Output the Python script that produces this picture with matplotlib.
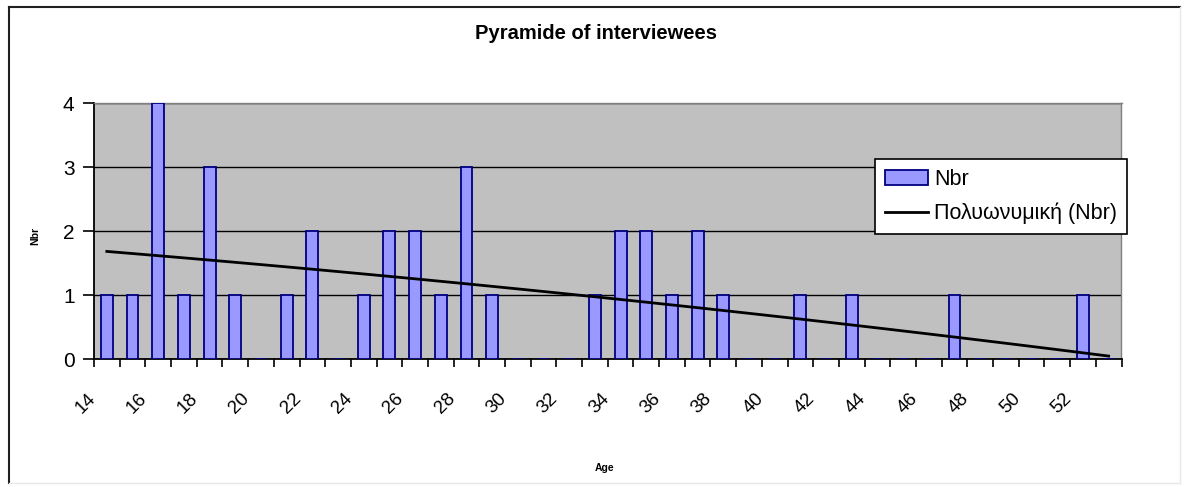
import numpy as np
import matplotlib
matplotlib.use("Agg")
import matplotlib.pyplot as plt
from matplotlib.patches import Patch
from matplotlib.lines import Line2D
from matplotlib.transforms import ScaledTranslation

ages = list(range(14, 54))
counts = [1, 1, 4, 1, 3, 1, 0, 1, 2, 0,
          1, 2, 2, 1, 3, 1, 0, 0, 0, 1,
          2, 2, 1, 2, 1, 0, 0, 1, 0, 1,
          0, 0, 0, 1, 0, 0, 0, 0, 1, 0]
tick_labels = [str(a) for a in range(14, 54, 2)]
title = "Pyramide of interviewees"
series_name = "Nbr"
trend_name = "Πολυωνυμική (Nbr)"
x_title = "Age"

plt.rcParams['font.family'] = ['Liberation Sans', 'DejaVu Sans']

W, H = 1186, 487
fig = plt.figure(figsize=(W / 100, H / 100), dpi=100)
fig.patch.set_facecolor('white')

# outer chart border
fig.add_artist(Line2D([8.5 / W, 8.5 / W], [1 - 6.5 / H, 1 - 483 / H], color='#202020', lw=1.5, transform=fig.transFigure))
fig.add_artist(Line2D([8.5 / W, 1180 / W], [1 - 6.5 / H, 1 - 6.5 / H], color='#202020', lw=1.5, transform=fig.transFigure))
fig.add_artist(Line2D([1180 / W, 1180 / W], [1 - 6.5 / H, 1 - 483 / H], color='#e8e8e8', lw=1.0, transform=fig.transFigure))
fig.add_artist(Line2D([8.5 / W, 1180 / W], [1 - 483 / H, 1 - 483 / H], color='#e8e8e8', lw=1.0, transform=fig.transFigure))

left, right = 94 / W, 1121.5 / W
top, bottom = 1 - 103.3 / H, 1 - 359.3 / H
ax = fig.add_axes([left, bottom, right - left, top - bottom])
ax.set_facecolor('#C0C0C0')

x = np.arange(len(ages))
ax.bar(x, counts, width=0.46, color='#9999FF', edgecolor='#000080', linewidth=1.3, zorder=3)

coef = np.polyfit(x, counts, 2)
trend = np.polyval(coef, x)
ax.plot(x, trend, color='black', lw=2.0, zorder=4)

ax.set_xlim(-0.5, len(ages) - 0.5)
ax.set_ylim(0, 4)
ax.set_yticks([0, 1, 2, 3, 4])
ax.yaxis.grid(True, color='black', lw=1.0, zorder=1)
ax.set_axisbelow(True)

# x ticks at category boundaries
ax.set_xticks(np.arange(len(ages) + 1) - 0.5)
ax.set_xticklabels([])
ax.tick_params(axis='x', length=6, width=1.2, direction='out', color='black')
ax.tick_params(axis='y', length=8, width=1.2, direction='out', labelsize=15, pad=6)

# rotated category labels (every other category)
offset = ScaledTranslation(-14 / 100, -37 / 100, fig.dpi_scale_trans)
for i, lab in zip(range(0, len(ages), 2), tick_labels):
    ax.text(i, 0, lab, transform=ax.get_xaxis_transform() + offset,
            rotation=45, rotation_mode='anchor', ha='right', va='center', fontsize=13.5)

for s in ['left', 'bottom']:
    ax.spines[s].set_color('black')
    ax.spines[s].set_linewidth(1.3)
for s in ['top', 'right']:
    ax.spines[s].set_color('#808080')
    ax.spines[s].set_linewidth(1.0)

fig.text(596 / W, 1 - 33 / H, title, ha='center', va='center', fontsize=14.5, fontweight='bold')
fig.text(35 / W, 1 - 236 / H, series_name, ha='center', va='center', fontsize=7.5, fontweight='bold', rotation=90)
fig.text(605 / W, 1 - 468 / H, x_title, ha='center', va='center', fontsize=7.5, fontweight='bold')

handles = [Patch(facecolor='#9999FF', edgecolor='#000080', linewidth=1.3),
           Line2D([0], [0], color='black', lw=2.0)]
leg = ax.legend(handles, [series_name, trend_name], loc='upper left',
                bbox_to_anchor=((875 - 94) / (1121.5 - 94), 1 - (159 - 103.3) / (359.3 - 103.3)),
                frameon=True, fancybox=False, fontsize=15.5, handlelength=2.0,
                handletextpad=0.3, borderpad=0.45, labelspacing=0.6, borderaxespad=0)
leg.get_frame().set_edgecolor('black')
leg.get_frame().set_linewidth(1.2)
leg.get_frame().set_facecolor('white')
leg.get_frame().set_alpha(1)
leg.set_zorder(10)

fig.savefig('out.png', dpi=100)
